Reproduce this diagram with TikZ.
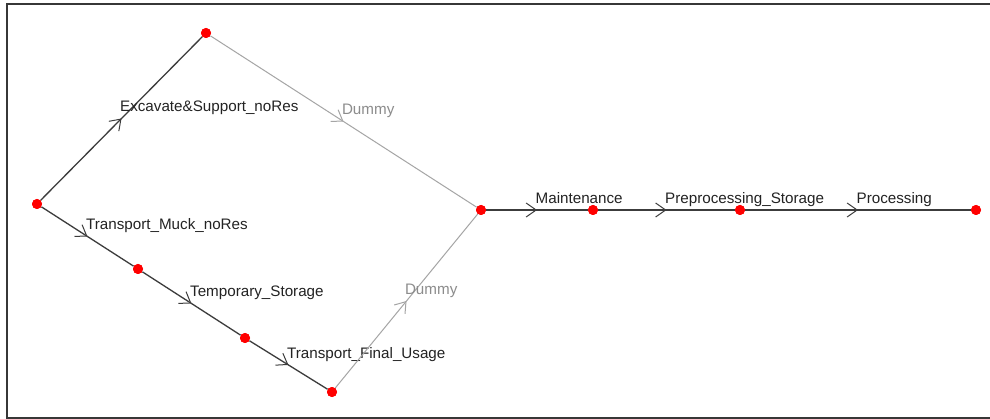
\documentclass[tikz,border=0pt]{standalone}
\usepackage{fontspec}
\setmainfont{Liberation Sans}
\usetikzlibrary{arrows.meta,decorations.markings}
\definecolor{edgedark}{RGB}{60,60,60}
\definecolor{edgelight}{RGB}{165,165,165}
\definecolor{textdark}{RGB}{35,35,35}
\definecolor{textlight}{RGB}{140,140,140}
\definecolor{framec}{RGB}{55,55,55}
\begin{document}
\begin{tikzpicture}[x=1pt,y=-1pt,
  vertex/.style={circle,fill=red,inner sep=0pt,minimum size=10pt},
  midarrow/.style={postaction={decorate},decoration={markings,
    mark=at position 0.5 with {\arrow[line width=1pt]{Straight Barb[length=10pt,width=14pt]}}}},
  act/.style={draw=edgedark,line width=1.3pt,midarrow},
  dummy/.style={draw=edgelight,line width=1pt,midarrow},
  lbl/.style={pos=0.5,anchor=base west,inner sep=0pt,xshift=-2pt,yshift=6.5pt,
    font=\fontsize{15.2}{17}\selectfont,text=textdark},
  dlbl/.style={lbl,text=textlight}]
  % canvas and frame (open on the right)
  \fill[white] (0,0) rectangle (990,419);
  \useasboundingbox (0,0) rectangle (990,419);
  \draw[framec,line width=1.6pt] (991,4) -- (7,4) -- (7,418) -- (991,418);

  % events
  \node[vertex] (A) at (37,204) {};
  \node[vertex] (B) at (206,33) {};
  \node[vertex] (C) at (481,210) {};
  \node[vertex] (D) at (138,269) {};
  \node[vertex] (E) at (245,338) {};
  \node[vertex] (F) at (332,392) {};
  \node[vertex] (G) at (593,210) {};
  \node[vertex] (H) at (740,210) {};
  \node[vertex] (I) at (976,210) {};

  % activities
  \draw[act] (A) -- (B) node[lbl] (lAB) {Excavate\&Support\_noRes};
  \draw[dummy] (B) -- (C) node[dlbl] (lBC) {Dummy};
  \draw[act] (A) -- (D) node[lbl] (lAD) {Transport\_Muck\_noRes};
  \draw[act] (D) -- (E) node[lbl] (lDE) {Temporary\_Storage};
  \draw[act] (E) -- (F) node[lbl] (lEF) {Transport\_Final\_Usage};
  \draw[dummy] (F) -- (C) node[dlbl] (lFC) {Dummy};
  \draw[act] (C) -- (G) node[lbl] (lCG) {Maintenance};
  \draw[act] (G) -- (H) node[lbl] (lGH) {Preprocessing\_Storage};
  \draw[act] (H) -- (I) node[lbl] (lHI) {Processing};

  % redraw events above the lines
  \foreach \v in {A,B,C,D,E,F,G,H,I} \fill[red] (\v) circle (5pt);
\end{tikzpicture}
\end{document}
